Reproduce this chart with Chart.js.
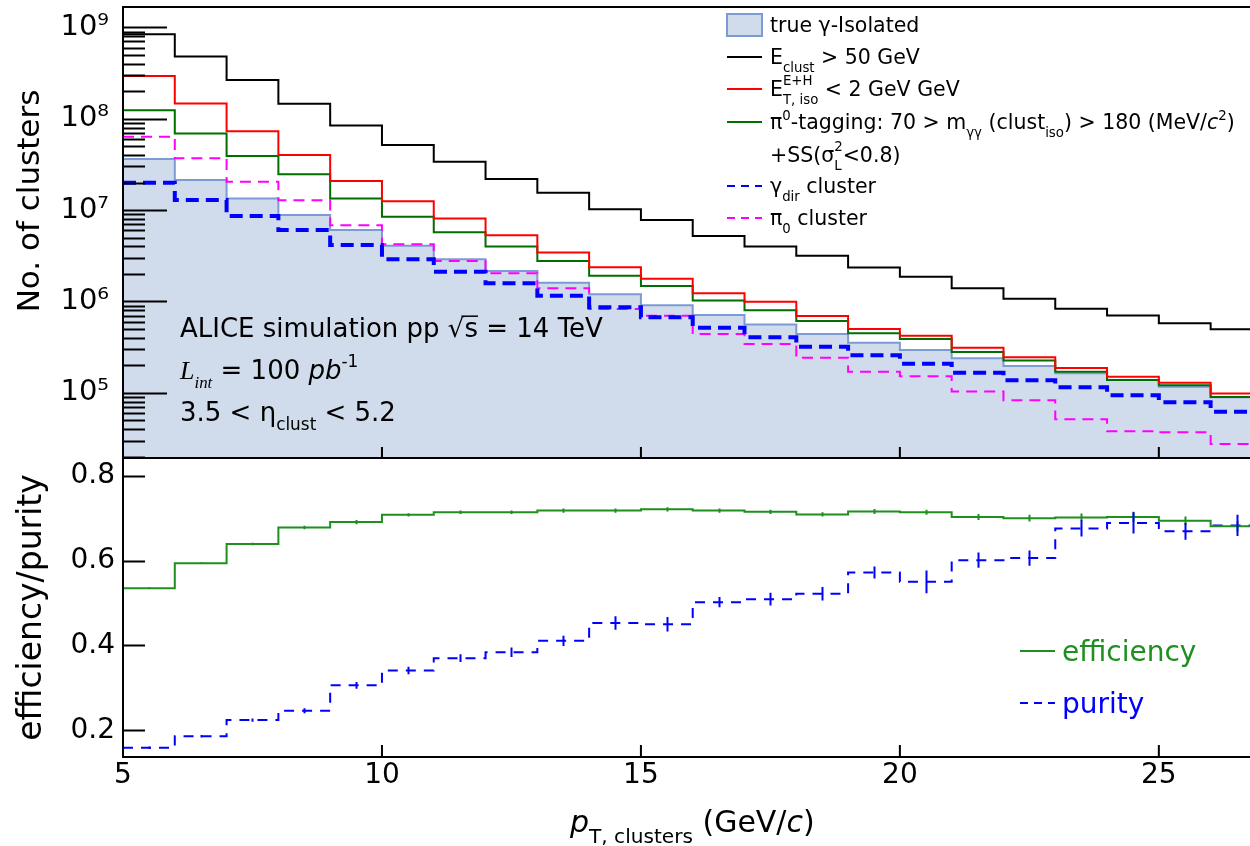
<!DOCTYPE html>
<html lang="en">
<head>
    <meta charset="UTF-8" />
    <title>ALICE simulation - isolated photon clusters</title>
    <script src="https://cdn.jsdelivr.net/npm/chart.js"></script>
    <style>
        body { margin: 0; background: #fff; }
        #wrap { position: relative; width: 1250px; height: 846px; overflow: hidden; }
        #cTop { position: absolute; left: 0; top: 0; }
        #cBot { position: absolute; left: 0; top: 456px; }
    </style>
</head>
<body>
<div id="wrap">
    <canvas id="cTop" width="1250" height="460"></canvas>
    <canvas id="cBot" width="1250" height="390"></canvas>
</div>

<script>
    // bin edges of pT,clusters (GeV/c)
    const binEdges = [5, 6, 7, 8, 9, 10, 11, 12, 13, 14, 15, 16, 17, 18, 19, 20, 21, 22, 23, 24, 25, 26, 27];

    // upper panel: number of clusters per bin
    const nClust50 = [8.4e8, 4.8e8, 2.65e8, 1.46e8, 8.4e7, 5.15e7, 3.38e7, 2.19e7, 1.55e7, 1.02e7, 7.8e6,
        5.2e6, 4.0e6, 3.15e6, 2.35e6, 1.86e6, 1.39e6, 1.07e6, 8.3e5, 7.0e5, 5.75e5, 4.95e5];
    const nIsoCut = [2.93e8, 1.47e8, 7.3e7, 4.0e7, 2.08e7, 1.25e7, 8.1e6, 5.3e6, 3.44e6, 2.36e6, 1.77e6,
        1.23e6, 9.9e5, 6.9e5, 5.0e5, 4.2e5, 3.1e5, 2.44e5, 1.86e5, 1.5e5, 1.29e5, 9.8e4];
    const nPi0Tag = [1.24e8, 6.9e7, 3.9e7, 2.46e7, 1.34e7, 8.45e6, 5.7e6, 4.0e6, 2.77e6, 1.91e6, 1.47e6,
        1.02e6, 8.0e5, 6.1e5, 4.47e5, 3.87e5, 2.79e5, 2.26e5, 1.7e5, 1.38e5, 1.21e5, 9.0e4];
    const nTrueIso = [3.62e7, 2.13e7, 1.34e7, 8.8e6, 6.04e6, 4.07e6, 2.89e6, 2.15e6, 1.6e6, 1.2e6, 9.1e5,
        7.1e5, 5.6e5, 4.4e5, 3.53e5, 2.93e5, 2.38e5, 1.96e5, 1.63e5, 1.38e5, 1.16e5, 8.9e4];
    const nGammaDir = [1.99e7, 1.29e7, 8.6e6, 6.04e6, 4.14e6, 2.89e6, 2.11e6, 1.58e6, 1.15e6, 8.6e5, 6.7e5,
        5.15e5, 4.04e5, 3.19e5, 2.57e5, 2.08e5, 1.66e5, 1.37e5, 1.15e5, 9.4e4, 7.85e4, 6.2e4];
    const nPi0 = [6.35e7, 3.68e7, 2.04e7, 1.28e7, 6.8e6, 4.21e6, 2.77e6, 2.03e6, 1.39e6, 8.25e5, 6.97e5,
        4.39e5, 3.41e5, 2.42e5, 1.7e5, 1.52e5, 1.03e5, 8.26e4, 5.12e4, 3.78e4, 3.69e4, 2.74e4];

    // lower panel
    const efficiency = [0.535, 0.594, 0.639, 0.678, 0.691, 0.708, 0.714, 0.714, 0.718, 0.718, 0.721,
        0.718, 0.715, 0.709, 0.716, 0.714, 0.703, 0.700, 0.702, 0.703, 0.694, 0.681];
    const efficiencyErr = [0.002, 0.002, 0.003, 0.004, 0.005, 0.004, 0.004, 0.004, 0.005, 0.005, 0.005,
        0.005, 0.005, 0.005, 0.006, 0.006, 0.007, 0.008, 0.009, 0.012, 0.010, 0.012];
    const purity = [0.159, 0.186, 0.224, 0.246, 0.306, 0.341, 0.370, 0.384, 0.411, 0.453, 0.450,
        0.502, 0.509, 0.522, 0.572, 0.550, 0.601, 0.606, 0.676, 0.689, 0.669, 0.683];
    const purityErr = [0.003, 0.003, 0.004, 0.006, 0.008, 0.009, 0.009, 0.011, 0.012, 0.016, 0.017,
        0.012, 0.015, 0.016, 0.014, 0.027, 0.018, 0.018, 0.019, 0.025, 0.020, 0.025];

    // axis ranges / ticks
    const xMin = 5, xMax = 26.76;
    const xTicks = [5, 10, 15, 20, 25];
    const yTopMin = 1.93e4, yTopMax = 1.67e9;
    const yBotMin = 0.137, yBotMax = 0.842;
    const yBotTicks = [0.2, 0.4, 0.6, 0.8];

    const SANS = '"DejaVu Sans", sans-serif';
    const SERIF = '"Liberation Serif", serif';
    Chart.defaults.font.family = SANS;
    Chart.defaults.color = '#000';

    // histogram -> step points (left edges + closing point at last edge)
    function toSteps(vals) {
        const pts = vals.map((v, i) => ({ x: binEdges[i], y: v }));
        pts.push({ x: binEdges[vals.length], y: vals[vals.length - 1] });
        return pts;
    }

    // keep the plot frame exactly where the axis boxes say
    function fixWidth(s) {
        s.width = 123;
        s.paddingTop = 0;
        s.paddingBottom = 0;
    }
    function fixHeight(s) {
        s.height = 89;
        s.paddingLeft = 0;
        s.paddingRight = 0;
    }

    const supDigits = { 4: '⁴', 5: '⁵', 6: '⁶', 7: '⁷', 8: '⁸', 9: '⁹' };

    // small rich text writer: sub/superscripts, italics, stacked indices
    function rich(ctx, x, base, parts, size, color) {
        let cx = x;
        ctx.fillStyle = color;
        ctx.textBaseline = 'alphabetic';
        ctx.textAlign = 'left';
        for (const p of parts) {
            if (p.stack) {
                ctx.font = (size * 0.65) + 'px ' + SANS;
                ctx.fillText(p.stack[0], cx, base - size * 0.55);
                ctx.fillText(p.stack[1], cx, base + size * 0.35);
                cx += Math.max(ctx.measureText(p.stack[0]).width, ctx.measureText(p.stack[1]).width);
                continue;
            }
            const s = (p.sub || p.sup) ? size * (p.k || 0.65) : size;
            ctx.font = (p.it ? 'italic ' : '') + s + 'px ' + (p.serif ? SERIF : SANS);
            const dy = p.sub ? size * 0.36 : p.sup ? -size * 0.45 : 0;
            ctx.fillText(p.t, cx, base + dy);
            const w = ctx.measureText(p.t).width;
            if (p.over) {
                ctx.strokeStyle = color;
                ctx.lineWidth = 1.5;
                ctx.beginPath();
                ctx.moveTo(cx - 3, base - size * 0.8);
                ctx.lineTo(cx + w, base - size * 0.8);
                ctx.stroke();
            }
            cx += w;
        }
        return cx;
    }

    function frame(ctx, a) {
        ctx.save();
        ctx.strokeStyle = '#000';
        ctx.lineWidth = 2;
        ctx.beginPath();
        ctx.moveTo(a.right + 2, a.top);
        ctx.lineTo(a.left, a.top);
        ctx.lineTo(a.left, a.bottom);
        ctx.lineTo(a.right + 2, a.bottom);
        ctx.stroke();
        ctx.restore();
    }

    const topDecor = {
        id: 'topDecor',
        afterDraw(chart) {
            const { ctx, chartArea: a, scales: { x, y } } = chart;
            ctx.save();
            ctx.strokeStyle = '#000';
            ctx.lineWidth = 2;
            ctx.beginPath();
            // log ticks pointing inwards
            for (let e = 4; e <= 9; e++) {
                for (let k = 1; k <= 9; k++) {
                    const v = k * Math.pow(10, e);
                    if (v < yTopMin || v > yTopMax) continue;
                    const py = Math.round(y.getPixelForValue(v)) + 0.5;
                    ctx.moveTo(a.left, py);
                    ctx.lineTo(a.left + (k === 1 ? 44 : 22), py);
                }
            }
            for (const v of xTicks) {
                const px = x.getPixelForValue(v);
                ctx.moveTo(px, a.bottom);
                ctx.lineTo(px, a.bottom - 11);
            }
            ctx.stroke();
            ctx.restore();
            frame(ctx, a);

            // y axis title (sits above the panel centre, as in the original)
            ctx.save();
            ctx.translate(31, 201);
            ctx.rotate(-Math.PI / 2);
            ctx.font = '31px ' + SANS;
            ctx.fillStyle = '#000';
            ctx.textAlign = 'center';
            ctx.textBaseline = 'middle';
            ctx.fillText('No. of clusters', 0, 0);
            ctx.restore();

            // legend
            ctx.save();
            const lx0 = 727, lx1 = 762, tx = 770, fs = 20.5;
            const rows = [
                { y: 25, box: true, color: '#000', parts: [{ t: 'true γ-Isolated' }] },
                { y: 57, line: '#000', color: '#000', parts: [{ t: 'E' }, { t: 'clust', sub: 1 }, { t: ' > 50 GeV' }] },
                { y: 89, line: '#ff0000', color: '#000', parts: [{ t: 'E' }, { stack: ['E+H', 'T, iso'] }, { t: ' < 2 GeV GeV' }] },
                { y: 122, line: '#006e00', color: '#000', parts: [{ t: 'π' }, { t: '0', sup: 1 }, { t: '-tagging: 70 > m' }, { t: 'γγ', sub: 1 }, { t: ' (clust' }, { t: 'iso', sub: 1 }, { t: ') > 180 (MeV/' }, { t: 'c', it: 1 }, { t: '2', sup: 1 }, { t: ')' }] },
                { y: 155, color: '#000', parts: [{ t: '+SS(σ' }, { stack: ['2', 'L'] }, { t: '<0.8)' }] },
                { y: 186, line: '#0000ff', dash: [8, 6], color: '#000', parts: [{ t: 'γ' }, { t: 'dir', sub: 1 }, { t: ' cluster' }] },
                { y: 218, line: '#ff00ff', dash: [8, 6], color: '#000', parts: [{ t: 'π' }, { t: '0', sub: 1 }, { t: ' cluster' }] }
            ];
            for (const r of rows) {
                if (r.box) {
                    ctx.fillStyle = '#d0dbec';
                    ctx.fillRect(lx0, r.y - 11, lx1 - lx0, 22);
                    ctx.strokeStyle = '#7d9bd3';
                    ctx.lineWidth = 2;
                    ctx.strokeRect(lx0, r.y - 11, lx1 - lx0, 22);
                }
                if (r.line) {
                    ctx.strokeStyle = r.line;
                    ctx.lineWidth = 2;
                    ctx.setLineDash(r.dash || []);
                    ctx.beginPath();
                    ctx.moveTo(lx0, r.y);
                    ctx.lineTo(lx1, r.y);
                    ctx.stroke();
                    ctx.setLineDash([]);
                }
                rich(ctx, tx, r.y + fs * 0.36, r.parts, fs, r.color);
            }

            // simulation labels
            const ts = 26;
            rich(ctx, 180, 337, [{ t: 'ALICE simulation pp ' }, { t: '√' }, { t: 's', over: 1 }, { t: ' = 14 TeV' }], ts, '#000');
            rich(ctx, 180, 379, [{ t: 'L', it: 1, serif: 1 }, { t: 'int', it: 1, serif: 1, sub: 1 }, { t: ' = 100 ' }, { t: 'pb', it: 1 }, { t: '-1', sup: 1 }], ts, '#000');
            rich(ctx, 180, 421, [{ t: '3.5 < η' }, { t: 'clust', sub: 1 }, { t: ' < 5.2' }], ts, '#000');
            ctx.restore();
        }
    };

    const botDecor = {
        id: 'botDecor',
        afterDraw(chart) {
            const { ctx, chartArea: a, scales: { x, y } } = chart;
            ctx.save();
            // error bars at bin centres
            const bars = [[efficiency, efficiencyErr, '#1f8f1f'], [purity, purityErr, '#0000ff']];
            for (const [vals, errs, col] of bars) {
                ctx.strokeStyle = col;
                ctx.lineWidth = 2;
                ctx.beginPath();
                vals.forEach((v, i) => {
                    const c = (binEdges[i] + binEdges[i + 1]) / 2;
                    if (c > xMax) return;
                    const px = Math.round(x.getPixelForValue(c)) + 0.5;
                    ctx.moveTo(px, y.getPixelForValue(v - errs[i]));
                    ctx.lineTo(px, y.getPixelForValue(v + errs[i]));
                });
                ctx.stroke();
            }
            // ticks pointing inwards
            ctx.strokeStyle = '#000';
            ctx.beginPath();
            for (const v of yBotTicks) {
                const py = Math.round(y.getPixelForValue(v)) + 0.5;
                ctx.moveTo(a.left, py);
                ctx.lineTo(a.left + 22, py);
            }
            for (const v of xTicks) {
                const px = x.getPixelForValue(v);
                ctx.moveTo(px, a.bottom);
                ctx.lineTo(px, a.bottom - 12);
            }
            ctx.stroke();
            frame(ctx, a);

            // legend
            ctx.lineWidth = 2;
            ctx.strokeStyle = '#1f8f1f';
            ctx.beginPath();
            ctx.moveTo(1020, 195);
            ctx.lineTo(1055, 195);
            ctx.stroke();
            ctx.strokeStyle = '#0000ff';
            ctx.setLineDash([8, 6]);
            ctx.beginPath();
            ctx.moveTo(1020, 247);
            ctx.lineTo(1055, 247);
            ctx.stroke();
            ctx.setLineDash([]);
            rich(ctx, 1062, 205, [{ t: 'efficiency' }], 28, '#1f8f1f');
            rich(ctx, 1062, 257, [{ t: 'purity' }], 28, '#0000ff');

            // x axis title
            rich(ctx, 570, 376, [{ t: 'p', it: 1 }, { t: 'T, clusters', sub: 1, k: 0.67 }, { t: ' (GeV/' }, { t: 'c', it: 1 }, { t: ')' }], 30, '#000');
            ctx.restore();
        }
    };

    const topChart = new Chart(document.getElementById('cTop'), {
        type: 'line',
        data: {
            datasets: [
                { data: toSteps(nClust50), borderColor: '#000000', borderWidth: 2 },
                { data: toSteps(nIsoCut), borderColor: '#ff0000', borderWidth: 2 },
                { data: toSteps(nPi0Tag), borderColor: '#006e00', borderWidth: 2 },
                { data: toSteps(nGammaDir), borderColor: '#0000ff', borderWidth: 4, borderDash: [13, 7] },
                { data: toSteps(nPi0), borderColor: '#ff00ff', borderWidth: 2, borderDash: [11, 7] },
                { data: toSteps(nTrueIso), borderColor: '#7d9bd3', borderWidth: 2, backgroundColor: '#d0dbec', fill: 'start' }
            ]
        },
        options: {
            responsive: false,
            animation: false,
            layout: { padding: { top: 7, right: 0, bottom: 2, left: 0 } },
            elements: { point: { radius: 0 }, line: { stepped: true, tension: 0 } },
            plugins: { legend: { display: false }, tooltip: { enabled: false } },
            scales: {
                x: { type: 'linear', min: xMin, max: xMax, display: false },
                y: {
                    type: 'logarithmic',
                    min: yTopMin,
                    max: yTopMax,
                    afterFit: fixWidth,
                    grid: { display: false, drawTicks: false },
                    border: { display: false },
                    ticks: {
                        autoSkip: false,
                        padding: 14,
                        font: { size: 29 },
                        callback: v => {
                            const e = Math.round(Math.log10(v));
                            return Math.abs(v / Math.pow(10, e) - 1) < 1e-6 ? '10' + supDigits[e] : '';
                        }
                    }
                }
            }
        },
        plugins: [topDecor]
    });

    const botChart = new Chart(document.getElementById('cBot'), {
        type: 'line',
        data: {
            datasets: [
                { data: toSteps(efficiency), borderColor: '#1f8f1f', borderWidth: 2 },
                { data: toSteps(purity), borderColor: '#0000ff', borderWidth: 2, borderDash: [10, 8] }
            ]
        },
        options: {
            responsive: false,
            animation: false,
            layout: { padding: { top: 2, right: 0, bottom: 0, left: 0 } },
            elements: { point: { radius: 0 }, line: { stepped: true, tension: 0 } },
            plugins: { legend: { display: false }, tooltip: { enabled: false } },
            scales: {
                x: {
                    type: 'linear',
                    min: xMin,
                    max: xMax,
                    afterFit: fixHeight,
                    grid: { display: false, drawTicks: false },
                    border: { display: false },
                    ticks: {
                        stepSize: 5,
                        includeBounds: false,
                        padding: 2,
                        maxRotation: 0,
                        font: { size: 28 },
                        callback: v => (v % 5 === 0 ? String(v) : '')
                    }
                },
                y: {
                    type: 'linear',
                    min: yBotMin,
                    max: yBotMax,
                    afterFit: fixWidth,
                    grid: { display: false, drawTicks: false },
                    border: { display: false },
                    ticks: {
                        stepSize: 0.2,
                        includeBounds: false,
                        padding: 8,
                        font: { size: 28 },
                        callback: v => v.toFixed(1)
                    },
                    title: { display: true, text: 'efficiency/purity', font: { size: 33 }, padding: { top: 13, bottom: 0 } }
                }
            }
        },
        plugins: [botDecor]
    });
</script>
</body>
</html>
